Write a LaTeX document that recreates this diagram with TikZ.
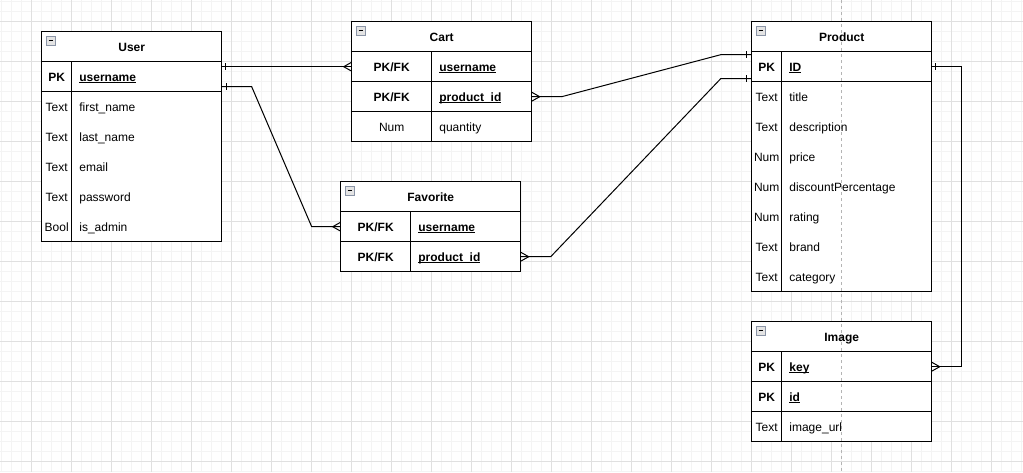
\documentclass[tikz,border=0pt]{standalone}
\usepackage{fontspec}
\setmainfont{Liberation Sans}
\usetikzlibrary{calc}
\definecolor{gminor}{HTML}{F4F4F4}
\definecolor{gmajor}{HTML}{E0E0E0}
\definecolor{pagebrk}{HTML}{B4B4B4}
\definecolor{minborder}{HTML}{8A94A6}
\definecolor{minfill}{HTML}{E4E4E4}
\newcommand{\ulfield}[1]{{\setbox0\hbox{#1}\rlap{\rule[-1.9pt]{\wd0}{0.9pt}}\box0}}
\begin{document}
\begin{tikzpicture}[x=1pt,y=-1pt,
  txt/.style={font=\fontsize{12}{14}\selectfont, inner sep=0pt, text height=8.6pt, text depth=0pt},
  hdr/.style={txt, font=\fontsize{12}{14}\selectfont\bfseries},
  key/.style={txt, font=\fontsize{12}{14}\selectfont\bfseries},
  fld/.style={txt, anchor=west},
  keyfld/.style={key, anchor=west},
  tblfill/.style={fill=white, draw=none, minimum width=180pt, inner sep=0pt, outer sep=0pt},
  tline/.style={line width=1pt, black},
  conn/.style={line width=1pt, black},
  minbox/.style={draw=minborder, fill=minfill, minimum size=8.6pt, inner sep=0pt, line width=0.9pt,
    path picture={\draw[line width=1pt, black] ($(path picture bounding box.west)+(2.2,0)$) -- ($(path picture bounding box.east)+(-2.2,0)$);}},
  gridminor/.style={gminor, line width=1pt},
  gridmajor/.style={gmajor, line width=1pt},
  pageline/.style={pagebrk, line width=1pt, dash pattern=on 3pt off 3pt}
]
\useasboundingbox (0,0) rectangle (1023,472);
\fill[white] (0,0) rectangle (1023,472);
% grid
\foreach \x in {1.7,11.7,...,1021.7} \draw[gridminor] (\x,0) -- (\x,472);
\foreach \y in {1.7,11.7,...,471.7} \draw[gridminor] (0,\y) -- (1023,\y);
\foreach \x in {31.7,71.7,...,1011.7} \draw[gridmajor] (\x,0) -- (\x,472);
\foreach \y in {21.7,61.7,...,461.7} \draw[gridmajor] (0,\y) -- (1023,\y);

% table backgrounds
\node[tblfill, minimum height=210pt] (user) at (131.7,136.7) {};
\node[tblfill, minimum height=120pt] (cart) at (441.7,81.7) {};
\node[tblfill, minimum height=90pt] (fav) at (430.7,226.7) {};
\node[tblfill, minimum height=270pt] (prod) at (841.7,156.7) {};
\node[tblfill, minimum height=120pt] (img) at (841.7,381.7) {};

% page break line
\draw[pageline] (841.7,0) -- (841.7,472);

% table borders
\foreach \t in {user,cart,fav,prod,img} \draw[tline] (\t.north west) rectangle (\t.south east);
% User
\draw[tline] (41.7,61.7) -- (221.7,61.7);
\draw[tline] (41.7,91.7) -- (221.7,91.7);
\draw[tline] (71.7,61.7) -- (71.7,241.7);
% Cart
\draw[tline] (351.7,51.7) -- (531.7,51.7);
\draw[tline] (351.7,81.7) -- (531.7,81.7);
\draw[tline] (351.7,111.7) -- (531.7,111.7);
\draw[tline] (431.7,51.7) -- (431.7,141.7);
% Favorite
\draw[tline] (340.7,211.7) -- (520.7,211.7);
\draw[tline] (340.7,241.7) -- (520.7,241.7);
\draw[tline] (410.7,211.7) -- (410.7,271.7);
% Product
\draw[tline] (751.7,51.7) -- (931.7,51.7);
\draw[tline] (751.7,81.7) -- (931.7,81.7);
\draw[tline] (781.7,51.7) -- (781.7,291.7);
% Image
\draw[tline] (751.7,351.7) -- (931.7,351.7);
\draw[tline] (751.7,381.7) -- (931.7,381.7);
\draw[tline] (751.7,411.7) -- (931.7,411.7);
\draw[tline] (781.7,351.7) -- (781.7,441.7);

% collapse boxes
\node[minbox] (userMin) at (50.7,40.7) {};
\node[minbox] (cartMin) at (360.7,30.7) {};
\node[minbox] (favMin) at (349.7,190.7) {};
\node[minbox] (prodMin) at (760.7,30.7) {};
\node[minbox] (imgMin) at (760.7,330.7) {};

% headers
\node[hdr] (userT) at (131.7,46.7) {User};
\node[hdr] (cartT) at (441.7,36.7) {Cart};
\node[hdr] (favT) at (430.7,196.7) {Favorite};
\node[hdr] (prodT) at (841.7,36.7) {Product};
\node[hdr] (imgT) at (841.7,336.7) {Image};

% User rows
\node[key] (userPK) at (56.7,76.7) {PK};
\node[keyfld] (userpk) at (79.2,76.7) {\ulfield{username}};
\node[txt] (userTy1) at (56.7,106.7) {Text};
\node[fld] (userF1) at (79.2,106.7) {first\_name};
\node[txt] (userTy2) at (56.7,136.7) {Text};
\node[fld] (userF2) at (79.2,136.7) {last\_name};
\node[txt] (userTy3) at (56.7,166.7) {Text};
\node[fld] (userF3) at (79.2,166.7) {email};
\node[txt] (userTy4) at (56.7,196.7) {Text};
\node[fld] (userF4) at (79.2,196.7) {password};
\node[txt] (userTy5) at (56.7,226.7) {Bool};
\node[fld] (userF5) at (79.2,226.7) {is\_admin};

% Cart rows
\node[key] (cartK1) at (391.7,66.7) {PK/FK};
\node[keyfld] (cartun) at (439.2,66.7) {\ulfield{username}};
\node[key] (cartK2) at (391.7,96.7) {PK/FK};
\node[keyfld] (cartpid) at (439.2,96.7) {\ulfield{product\_id}};
\node[txt] (cartTy3) at (391.7,126.7) {Num};
\node[fld] (cartqty) at (439.2,126.7) {quantity};

% Favorite rows
\node[key] (favK1) at (375.7,226.7) {PK/FK};
\node[keyfld] (favun) at (418.2,226.7) {\ulfield{username}};
\node[key] (favK2) at (375.7,256.7) {PK/FK};
\node[keyfld] (favpid) at (418.2,256.7) {\ulfield{product\_id}};

% Product rows
\node[key] (prodPK) at (766.7,66.7) {PK};
\node[keyfld] (prodid) at (789.2,66.7) {\ulfield{ID}};
\node[txt] (prodTy1) at (766.7,96.7) {Text};
\node[fld] (prodF1) at (789.2,96.7) {title};
\node[txt] (prodTy2) at (766.7,126.7) {Text};
\node[fld] (prodF2) at (789.2,126.7) {description};
\node[txt] (prodTy3) at (766.7,156.7) {Num};
\node[fld] (prodF3) at (789.2,156.7) {price};
\node[txt] (prodTy4) at (766.7,186.7) {Num};
\node[fld] (prodF4) at (789.2,186.7) {discountPercentage};
\node[txt] (prodTy5) at (766.7,216.7) {Num};
\node[fld] (prodF5) at (789.2,216.7) {rating};
\node[txt] (prodTy6) at (766.7,246.7) {Text};
\node[fld] (prodF6) at (789.2,246.7) {brand};
\node[txt] (prodTy7) at (766.7,276.7) {Text};
\node[fld] (prodF7) at (789.2,276.7) {category};

% Image rows
\node[key] (imgK1) at (766.7,366.7) {PK};
\node[keyfld] (imgkey) at (789.2,366.7) {\ulfield{key}};
\node[key] (imgK2) at (766.7,396.7) {PK};
\node[keyfld] (imgid) at (789.2,396.7) {\ulfield{id}};
\node[txt] (imgTy3) at (766.7,426.7) {Text};
\node[fld] (imgurl) at (789.2,426.7) {image\_url};

% connectors
\coordinate (c1a) at (user.east |- cartun);
\coordinate (c1b) at (cart.west |- cartun);
\coordinate (c2a) at ($(user.east |- userpk)+(0,10)$);
\coordinate (c2b) at (fav.west |- favun);
\coordinate (c3a) at (cart.east |- cartpid);
\coordinate (c3b) at ($(prod.west |- prodid)+(0,-12)$);
\coordinate (c4a) at (fav.east |- favpid);
\coordinate (c4b) at ($(prod.west |- prodid)+(0,12)$);
\coordinate (c5a) at (prod.east |- prodid);
\coordinate (c5b) at (img.east |- imgkey);

\draw[conn] (c1a) -- (c1b);
\draw[conn] (c2a) -- ++(30,0) -- ($(c2b)+(-29,0)$) -- (c2b);
\draw[conn] (c3a) -- ++(30,0) -- ($(c3b)+(-31,0)$) -- (c3b);
\draw[conn] (c4a) -- ++(30,0) -- ($(c4b)+(-31,0)$) -- (c4b);
\draw[conn] (c5a) -- ++(30,0) |- (c5b);

% "one" ticks
\draw[conn] ($(c1a)+(3.5,-3.5)$) -- ($(c1a)+(3.5,3.5)$);
\draw[conn] ($(c2a)+(4.5,-3.5)$) -- ($(c2a)+(4.5,3.5)$);
\draw[conn] ($(c3b)+(-5,-3.5)$) -- ($(c3b)+(-5,3.5)$);
\draw[conn] ($(c4b)+(-5,-3.5)$) -- ($(c4b)+(-5,3.5)$);
\draw[conn] ($(c5a)+(3.5,-3.5)$) -- ($(c5a)+(3.5,3.5)$);

% "many" crow's feet
\draw[conn] ($(c1b)+(0,-4.5)$) -- ($(c1b)+(-8,0)$) -- ($(c1b)+(0,4.5)$);
\draw[conn] ($(c2b)+(0,-4.5)$) -- ($(c2b)+(-8,0)$) -- ($(c2b)+(0,4.5)$);
\draw[conn] ($(c3a)+(0,-4.5)$) -- ($(c3a)+(8,0)$) -- ($(c3a)+(0,4.5)$);
\draw[conn] ($(c4a)+(0,-4.5)$) -- ($(c4a)+(8,0)$) -- ($(c4a)+(0,4.5)$);
\draw[conn] ($(c5b)+(0,-4.5)$) -- ($(c5b)+(8,0)$) -- ($(c5b)+(0,4.5)$);
\end{tikzpicture}
\end{document}
